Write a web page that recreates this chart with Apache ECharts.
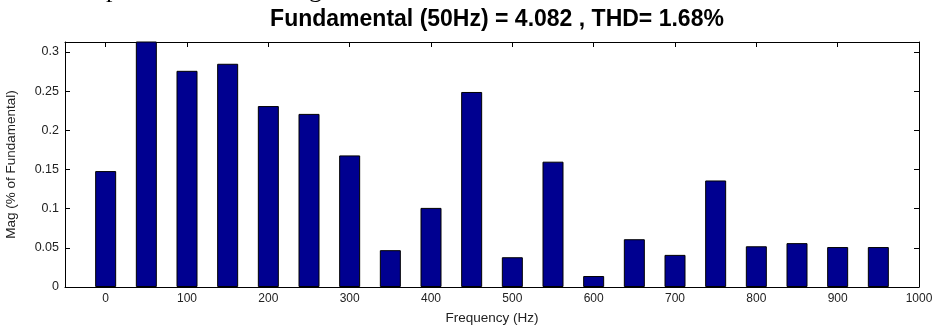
<!DOCTYPE html>
<html>
<head>
<meta charset="utf-8">
<script src="https://cdn.jsdelivr.net/npm/echarts@6/dist/echarts.min.js"></script>
<style>
  html, body { margin: 0; padding: 0; background: #fff; }
  #main { width: 935px; height: 325px; }
</style>
</head>
<body>
<div id="main"></div>
<script>
// harmonic frequencies (Hz) and magnitudes (% of fundamental)
var freqs = [0, 50, 100, 150, 200, 250, 300, 350, 400, 450, 500, 550, 600, 650, 700, 750, 800, 850, 900, 950];
var mags = [0.148, 0.35, 0.276, 0.285, 0.231, 0.221, 0.168, 0.047, 0.101, 0.249, 0.038, 0.160, 0.014, 0.061, 0.041, 0.136, 0.052, 0.056, 0.051, 0.051];
var xTicks = [0, 100, 200, 300, 400, 500, 600, 700, 800, 900, 1000];
var yTicks = [0, 0.05, 0.1, 0.15, 0.2, 0.25, 0.3];

var titleText = 'Fundamental (50Hz) = 4.082 , THD= 1.68%';

var chart = echarts.init(document.getElementById('main'));

var data = freqs.map(function (f, i) { return [f, mags[i]]; });

var font = 'Liberation Sans, Arial, sans-serif';
var plain = function (v) { return String(v); };

var option = {
  animation: false,
  backgroundColor: '#fff',
  title: {
    text: titleText,
    left: 492, top: 3, textAlign: 'center',
    textStyle: { fontSize: 23, fontWeight: 'bold', color: '#000', fontFamily: font }
  },
  // bits of the document caption above the figure, cut off by the crop
  graphic: [
    { type: 'text', left: 106, top: -23, style: { text: 'p', font: '26px "Liberation Serif", serif', fill: '#000' } },
    { type: 'text', left: 309, top: -23, style: { text: 'g', font: '26px "Liberation Serif", serif', fill: '#000' } }
  ],
  grid: { left: 65, right: 16, top: 42, bottom: 38, outerBoundsMode: 'none' },
  xAxis: [{
    type: 'value', min: -50, max: 1000,
    name: 'Frequency (Hz)', nameLocation: 'middle', nameGap: 24,
    nameTextStyle: { color: '#222', fontSize: 13.5, fontFamily: font },
    axisLine: { show: true, onZero: false, lineStyle: { color: '#000', width: 1 } },
    axisTick: { show: true, inside: true, length: 5, customValues: xTicks, lineStyle: { color: '#000' } },
    axisLabel: { customValues: xTicks, formatter: plain, margin: 6, color: '#222', fontSize: 12, fontFamily: font },
    splitLine: { show: false }
  }, {
    type: 'value', min: -50, max: 1000, position: 'top',
    axisLine: { show: true, onZero: false, lineStyle: { color: '#000', width: 1 } },
    axisTick: { show: true, inside: true, length: 5, customValues: xTicks, lineStyle: { color: '#000' } },
    axisLabel: { show: false },
    splitLine: { show: false }
  }],
  yAxis: [{
    type: 'value', min: 0, max: 0.3128,
    name: 'Mag (% of Fundamental)', nameLocation: 'middle', nameGap: 47, nameRotate: 90,
    nameTextStyle: { color: '#222', fontSize: 13.5, fontFamily: font },
    axisLine: { show: true, onZero: false, lineStyle: { color: '#000', width: 1 } },
    axisTick: { show: true, inside: true, length: 5, customValues: yTicks, lineStyle: { color: '#000' } },
    axisLabel: { customValues: yTicks, formatter: plain, margin: 6, color: '#222', fontSize: 12.5, fontFamily: font },
    splitLine: { show: false }
  }, {
    type: 'value', min: 0, max: 0.3128, position: 'right',
    axisLine: { show: true, onZero: false, lineStyle: { color: '#000', width: 1 } },
    axisTick: { show: true, inside: true, length: 5, customValues: yTicks, lineStyle: { color: '#000' } },
    axisLabel: { show: false },
    splitLine: { show: false }
  }],
  series: [{
    type: 'bar',
    data: data,
    barWidth: 21,
    clip: true,
    itemStyle: { color: '#000090', borderColor: '#000', borderWidth: 1 }
  }]
};

chart.setOption(option);
</script>
</body>
</html>
